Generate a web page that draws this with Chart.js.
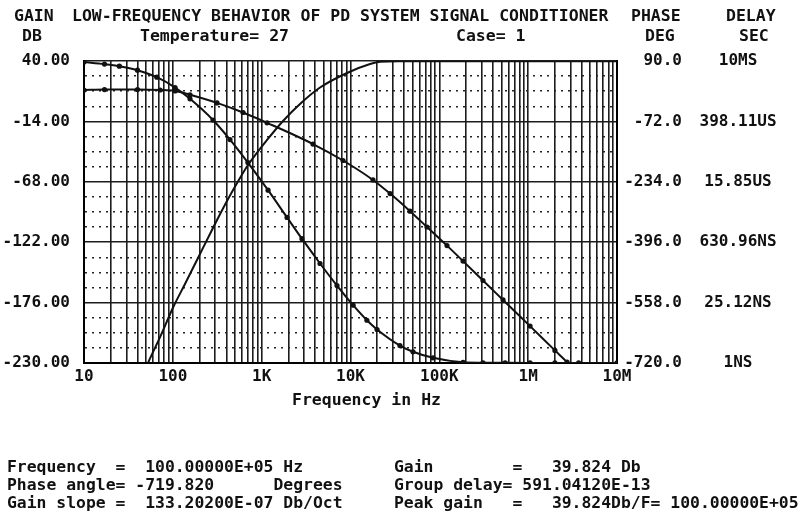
<!DOCTYPE html>
<html>
<head>
<meta charset="utf-8">
<script src="https://cdn.jsdelivr.net/npm/chart.js@4.4.0/dist/chart.umd.min.js"></script>
<style>
  html, body { margin: 0; padding: 0; background: #fff; }
  #wrap { position: relative; width: 809px; height: 517px; overflow: hidden; background: #fff; }
  #c { position: absolute; left: 0; top: 0; }
  .t { position: absolute; font: bold 16.5px "DejaVu Sans Mono", monospace; color: #111; white-space: pre; line-height: 20px; }
  .info { position: absolute; font: bold 16.4px "DejaVu Sans Mono", monospace; color: #111; white-space: pre; line-height: 18px; }
</style>
</head>
<body>
<div id="wrap">
  <canvas id="c" width="809" height="517"></canvas>
  <div class="t" style="left:14px;top:6px">GAIN</div>
  <div class="t" style="left:72px;top:6px">LOW-FREQUENCY BEHAVIOR OF PD SYSTEM SIGNAL CONDITIONER</div>
  <div class="t" style="left:631px;top:6px">PHASE</div>
  <div class="t" style="left:726px;top:6px">DELAY</div>
  <div class="t" style="left:22px;top:26px">DB</div>
  <div class="t" style="left:140px;top:26px">Temperature= 27</div>
  <div class="t" style="left:456px;top:26px">Case= 1</div>
  <div class="t" style="left:645px;top:26px">DEG</div>
  <div class="t" style="left:739px;top:26px">SEC</div>
  <div class="t" style="left:292px;top:390px">Frequency in Hz</div>
  <div class="info" style="left:7px;top:458px">Frequency  =  100.00000E+05 Hz
Phase angle= -719.820      Degrees
Gain slope =  133.20200E-07 Db/Oct</div>
  <div class="info" style="left:394px;top:458px">Gain        =   39.824 Db
Group delay= 591.04120E-13
Peak gain   =   39.824Db/F= 100.00000E+05</div>
</div>
<script>
// Frequency axis (Hz), decade labels
const xDecades = [10, 100, 1e3, 1e4, 1e5, 1e6, 1e7];
const xTickLabels = ['10', '100', '1K', '10K', '100K', '1M', '10M'];

// Left axis: gain in dB
const gainTicks = [-230, -176, -122, -68, -14, 40];
const gainTickLabels = ['-230.00', '-176.00', '-122.00', '-68.00', '-14.00', '40.00'];

// Right axis: phase in degrees
const phaseTicks = [-720, -558, -396, -234, -72, 90];
const phaseTickLabels = ['-720.0', '-558.0', '-396.0', '-234.0', '-72.0', '90.0'];

// Outer right axis: group delay in seconds (log)
const delayTicks = [1e-9, 2.512e-8, 6.3096e-7, 1.585e-5, 3.9811e-4, 1e-2];
const delayTickLabels = ['1NS', '25.12NS', '630.96NS', '15.85US', '398.11US', '10MS'];

// Gain response
const gainFreqHz = [45, 52.5, 72, 100, 137, 187, 283, 407, 570, 702, 1150, 1740, 2700, 4540, 9140, 16600, 21500, 36000, 100000, 1e6, 1e7];
const gainDb = [-243, -230, -206.7, -180.8, -159.4, -137.9, -109.3, -85.2, -64.6, -53, -30.6, -13.6, 1.6, 16.3, 29.3, 37.3, 39.3, 39.8, 39.82, 39.824, 39.824];

// Phase response
const phaseFreqHz = [10, 17, 25, 40, 66, 106, 156, 283, 440, 700, 1180, 1930, 2840, 4540, 7050, 10700, 15300, 19900, 36000, 50500, 85000, 185000, 310000, 550000, 1.05e6, 2e6, 3.7e6, 1e7];
const phaseDeg = [87.3, 81.7, 76.1, 65.3, 46.6, 18.7, -11.4, -68.2, -120.8, -182.5, -256.5, -329.5, -386.6, -453.1, -512.4, -565, -605.4, -630.1, -673.3, -689.9, -706, -718.1, -719.3, -719.6, -719.7, -719.8, -719.8, -719.82];

// Group delay
const delayFreqHz = [10, 17, 40, 72, 106, 156, 314, 617, 1150, 3780, 8240, 17900, 27900, 46800, 72600, 122000, 185000, 310000, 521000, 1.05e6, 2e6, 2.74e6, 1e7];
const delaySec = [2.13e-3, 2.18e-3, 2.18e-3, 2.13e-3, 2.02e-3, 1.65e-3, 1.07e-3, 6.4e-4, 3.69e-4, 1.19e-4, 4.94e-5, 1.75e-5, 8.44e-6, 3.3e-6, 1.42e-6, 5.26e-7, 2.3e-7, 8.17e-8, 2.9e-8, 7.16e-9, 1.96e-9, 1.05e-9, 5.9104e-11];

const FONT = { family: '"DejaVu Sans Mono", monospace', size: 16, weight: 'bold' };
const INK = '#111';

// Vertical grid at 1..9 of every decade
const xGrid = [];
for (let i = 0; i < xDecades.length - 1; i++) {
  for (let m = 1; m <= 9; m++) xGrid.push(xDecades[i] * m);
}
xGrid.push(xDecades[xDecades.length - 1]);

// Horizontal grid: labelled lines plus three dotted lines between them
const gainGrid = [];
for (let i = 0; i < gainTicks.length - 1; i++) {
  const a = gainTicks[i], b = gainTicks[i + 1];
  for (let j = 0; j < 4; j++) gainGrid.push(a + (b - a) * j / 4);
}
gainGrid.push(gainTicks[gainTicks.length - 1]);

const pts = (xs, ys) => xs.map((x, i) => ({ x, y: ys[i] }));

new Chart(document.getElementById('c'), {
  type: 'line',
  data: {
    datasets: [
      {
        label: 'Gain',
        data: pts(gainFreqHz, gainDb),
        yAxisID: 'y',
        borderColor: INK, borderWidth: 2,
        pointRadius: 0, cubicInterpolationMode: 'monotone'
      },
      {
        label: 'Phase',
        data: pts(phaseFreqHz, phaseDeg),
        yAxisID: 'y1',
        borderColor: INK, borderWidth: 2,
        pointRadius: 2.6, pointBackgroundColor: INK, pointBorderWidth: 0,
        cubicInterpolationMode: 'monotone'
      },
      {
        label: 'Group delay',
        data: pts(delayFreqHz, delaySec),
        yAxisID: 'y2',
        borderColor: INK, borderWidth: 2,
        pointRadius: 2.6, pointBackgroundColor: INK, pointBorderWidth: 0,
        cubicInterpolationMode: 'monotone'
      }
    ]
  },
  options: {
    responsive: false,
    animation: false,
    events: [],
    layout: { padding: { top: 61, bottom: 94, left: 0, right: 0 } },
    plugins: { legend: { display: false }, title: { display: false }, tooltip: { enabled: false } },
    scales: {
      x: {
        type: 'logarithmic', position: 'bottom', min: 10, max: 1e7,
        afterBuildTicks: s => { s.ticks = xGrid.map(v => ({ value: v })); },
        afterFit: s => { s.height = 60; },
        ticks: {
          autoSkip: false, maxRotation: 0, minRotation: 0, padding: 4, color: INK, font: FONT,
          callback: v => { const i = xDecades.indexOf(v); return i >= 0 ? xTickLabels[i] : ''; }
        },
        grid: { color: '#1c1c1c', lineWidth: 1.6, drawTicks: false },
        border: { display: true, color: '#000', width: 2 }
      },
      y: {
        type: 'linear', position: 'left', min: -230, max: 40,
        afterBuildTicks: s => { s.ticks = gainGrid.map(v => ({ value: v })); },
        afterFit: s => { s.width = 84; },
        ticks: {
          autoSkip: false, padding: 14, color: INK, font: FONT,
          callback: v => { const i = gainTicks.indexOf(v); return i >= 0 ? gainTickLabels[i] : ''; }
        },
        grid: {
          drawTicks: false,
          color: c => (c.tick && gainTicks.includes(c.tick.value)) ? '#1c1c1c' : '#222',
          lineWidth: 1.6
        },
        border: {
          display: true, color: '#000', width: 2,
          dash: c => (c.tick && !gainTicks.includes(c.tick.value)) ? [2, 5] : []
        }
      },
      y1: {
        type: 'linear', position: 'right', min: -720, max: 90,
        afterBuildTicks: s => { s.ticks = phaseTicks.map(v => ({ value: v })); },
        afterFit: s => { s.width = 65; },
        ticks: {
          autoSkip: false, crossAlign: 'far', padding: 0, color: INK, font: FONT,
          callback: v => { const i = phaseTicks.indexOf(v); return i >= 0 ? phaseTickLabels[i] : ''; }
        },
        grid: { drawOnChartArea: false, drawTicks: false },
        border: { display: true, color: '#000', width: 2 }
      },
      y2: {
        type: 'logarithmic', position: 'right', min: 1e-9, max: 1e-2,
        afterBuildTicks: s => { s.ticks = delayTicks.map(v => ({ value: v })); },
        afterFit: s => { s.width = 127; },
        ticks: {
          autoSkip: false, crossAlign: 'center', padding: 17.5, color: INK, font: FONT,
          callback: (v, i) => delayTickLabels[i]
        },
        grid: { display: false, drawOnChartArea: false, drawTicks: false },
        border: { display: false }
      }
    }
  }
});
</script>
</body>
</html>
